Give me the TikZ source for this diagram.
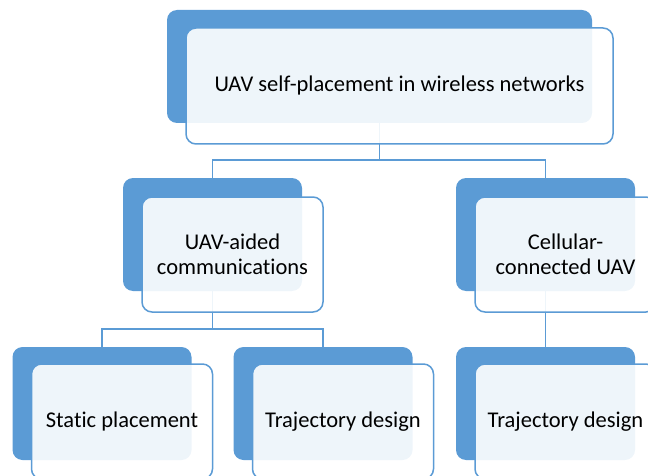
\documentclass[tikz,border=0pt]{standalone}
\usepackage{fontspec}
\setmainfont[Ligatures=NoCommon]{Carlito}
\usepackage{tikz}
\usetikzlibrary{arrows,shapes}
\usetikzlibrary{calc}
\definecolor{uavblue}{HTML}{5B9BD5}

\begin{document}
\begin{tikzpicture}[x=1pt, y=-1pt,
  backbox/.style={fill=uavblue, rounded corners=10pt, minimum width=179pt, minimum height=113pt, inner sep=0pt},
  frontbox/.style={draw=uavblue, line width=1.5pt, fill=white, fill opacity=0.9, text opacity=1, rounded corners=10pt, minimum width=181pt, minimum height=115pt, inner sep=0pt, align=center, font=\fontsize{22.5}{25}\selectfont},
  link/.style={draw=uavblue, line width=1.8pt}]

\useasboundingbox (0,0) rectangle (648,476);
\clip (0,0) rectangle (648,476);

% back boxes
\node[backbox, minimum width=425pt] (topb) at (379.5,66.5) {};
\node[backbox] (aidedb) at (212.5,234.5) {};
\node[backbox] (cellb) at (545.5,234.5) {};
\node[backbox] (staticb) at (102,403.5) {};
\node[backbox] (trajab) at (323,403.5) {};
\node[backbox] (trajbb) at (545.5,403.5) {};

% tree lines
\draw[link] (topb.south) -- ++(0,37) -| (aidedb.north);
\draw[link] (topb.south) -- ++(0,37) -| (cellb.north);
\draw[link] (aidedb.south) -- ++(0,38) -| (staticb.north);
\draw[link] (aidedb.south) -- ++(0,38) -| (trajab.north);
\draw[link] (cellb.south) -- (trajbb.north);

% front boxes
\node[frontbox, minimum width=427pt, minimum height=116pt] (top) at ([shift={(20,19.5)}]topb) {UAV self-placement in wireless networks};
\node[frontbox] (aided) at ([shift={(20,20)}]aidedb) {UAV-aided\\communications};
\node[frontbox] (cell) at ([shift={(20,20)}]cellb) {Cellular-\\connected UAV};
\node[frontbox] (static) at ([shift={(20,18)}]staticb) {Static placement};
\node[frontbox] (traja) at ([shift={(20,18)}]trajab) {Trajectory design};
\node[frontbox] (trajb) at ([shift={(20,18)}]trajbb) {Trajectory design};

\end{tikzpicture}
\end{document}
